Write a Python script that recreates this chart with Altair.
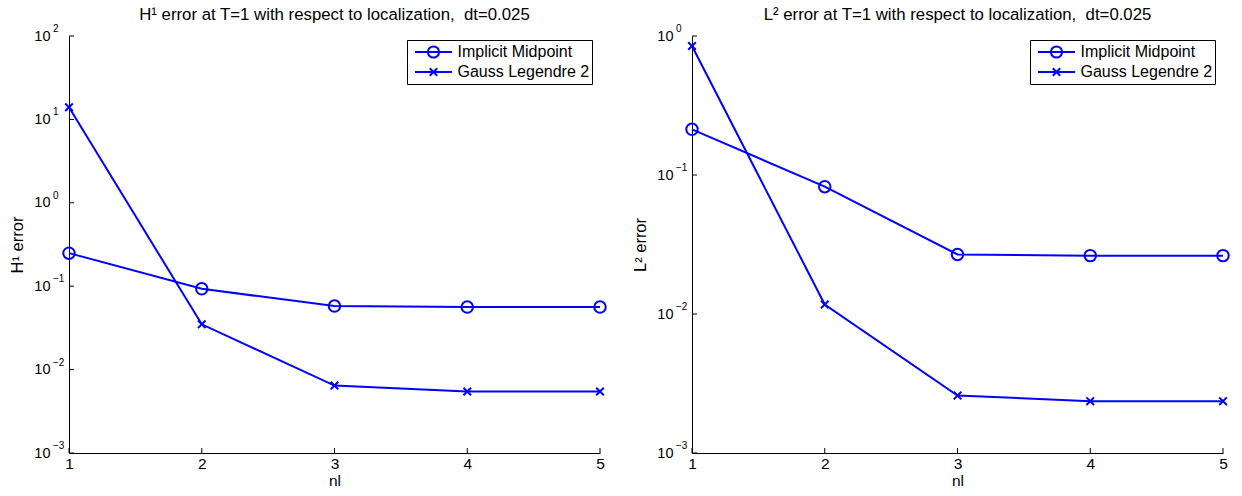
import altair as alt
import pandas as pd

# refinement level and the two schemes
nl = [1, 2, 3, 4, 5]
methods = ["Implicit Midpoint", "Gauss Legendre 2"]

# H1 error at T=1
h1_midpoint = [0.249, 0.093, 0.0578, 0.0562, 0.0562]
h1_gauss = [14.0, 0.0349, 0.00643, 0.00546, 0.00546]

# L2 error at T=1
l2_midpoint = [0.213, 0.0824, 0.0268, 0.0263, 0.0263]
l2_gauss = [0.847, 0.0117, 0.00259, 0.00236, 0.00236]

# decade ticks and their exponents
h1_decades = [1e-3, 1e-2, 1e-1, 1e0, 1e1, 1e2]
h1_exponents = ["\u22123", "\u22122", "\u22121", "0", "1", "2"]
l2_decades = [1e-3, 1e-2, 1e-1, 1e0]
l2_exponents = ["\u22123", "\u22122", "\u22121", "0"]

BLUE = "#0000ff"
FONT = "Liberation Sans"
W, H = 531, 417

# data markers: open circle and an "x"
marker_shapes = ["circle", "M-0.66,-0.66L0.66,0.66M-0.66,0.66L0.66,-0.66"]
# legend keys: a line segment with the marker on it (drawn wider than the
# nominal symbol box so the labels sit close to the line)
legend_shapes = [
    "M-1.233,0L1.233,0M-0.373,0A0.373,0.373,0,1,1,0.373,0A0.373,0.373,0,1,1,-0.373,0",
    "M-1.233,0L1.233,0M-0.247,-0.247L0.247,0.247M-0.247,0.247L0.247,-0.247",
]


def panel(mid, gauss, decades, exponents, title, ytitle, ymax):
    df = pd.DataFrame({
        "nl": nl * 2,
        "error": mid + gauss,
        "method": [methods[0]] * len(nl) + [methods[1]] * len(nl),
    })
    x = alt.X(
        "nl:Q",
        scale=alt.Scale(domain=[1, 5], nice=False, zero=False),
        axis=alt.Axis(values=nl, format="d", title="nl", labelPadding=3,
                      titlePadding=2, labelFlush=False),
    )
    y = alt.Y(
        "error:Q",
        scale=alt.Scale(type="log", domain=[1e-3, ymax], nice=False),
        axis=alt.Axis(values=decades, labelExpr="'10'", title=ytitle,
                      labelPadding=19, titlePadding=8, labelAlign="right",
                      labelBaseline="middle", labelFontSize=14.5,
                      titleFontSize=16.5),
    )
    base = alt.Chart(df)
    lines = base.mark_line(color=BLUE, strokeWidth=2).encode(
        x=x, y=y, detail="method:N")
    points = base.mark_point(
        filled=False, color=BLUE, strokeWidth=2, size=132, opacity=1
    ).encode(
        x=x, y=y,
        shape=alt.Shape("method:N",
                        scale=alt.Scale(domain=methods, range=marker_shapes),
                        legend=None),
    )
    legend_layer = base.transform_filter("false").transform_calculate(
        key="datum.method"
    ).mark_point(filled=False, color=BLUE, strokeWidth=2, opacity=1).encode(
        x=x, y=y,
        shape=alt.Shape(
            "key:N",
            scale=alt.Scale(domain=methods, range=legend_shapes),
            legend=alt.Legend(
                title=None, orient="none", legendX=338, legendY=4,
                strokeColor="black", fillColor="white", padding=2,
                symbolSize=900, symbolStrokeWidth=2, symbolStrokeColor=BLUE,
                symbolFillColor="transparent", symbolOffset=8.5,
                clipHeight=20, rowPadding=0, labelOffset=8,
                labelFont=FONT, labelFontSize=16, labelColor="black",
                labelExpr="datum.label + '\u00a0\u00a0\u00a0\u00a0\u00a0\u00a0\u00a0'",
            ),
        ),
    )
    tick_df = pd.DataFrame({"error": decades, "exp": exponents})
    yticks = alt.Chart(tick_df).mark_rule(color="black", strokeWidth=1).encode(
        y=y, x=alt.value(0), x2=alt.value(5))
    exps = alt.Chart(tick_df).mark_text(
        align="left", baseline="middle", dy=-7, fontSize=10, font=FONT,
        color="black",
    ).encode(y=y, x=alt.value(-16), text="exp:N")
    xticks = alt.Chart(pd.DataFrame({"nl": nl})).mark_rule(
        color="black", strokeWidth=1
    ).encode(x=x, y=alt.value(H), y2=alt.value(H - 5))

    return alt.layer(lines, points, legend_layer, yticks, xticks, exps).resolve_scale(
        shape="independent"
    ).properties(
        width=W, height=H,
        title=alt.TitleParams(title, font=FONT, fontSize=16.8, fontWeight="normal",
                              color="black", anchor="middle", offset=0),
    )


left = panel(h1_midpoint, h1_gauss, h1_decades, h1_exponents,
             "H\u00b9 error at T=1 with respect to localization,\u00a0 dt=0.025",
             "H\u00b9 error", 1e2)
right = panel(l2_midpoint, l2_gauss, l2_decades, l2_exponents,
              "L\u00b2 error at T=1 with respect to localization,\u00a0 dt=0.025",
              "L\u00b2 error", 1e0)

chart = alt.hconcat(left, right, spacing=22).properties(
    padding={"left": 9, "top": 7, "right": 5, "bottom": 5},
    background="white",
).configure_view(stroke=None).configure_axis(
    domainColor="black", domainWidth=1, ticks=False, tickSize=0, grid=False,
    labelFont=FONT, labelFontSize=15.5, labelColor="black",
    titleFont=FONT, titleFontSize=15.5, titleFontWeight="normal", titleColor="black",
)

chart.save("out.html", embed_options={"renderer": "svg", "actions": False})
